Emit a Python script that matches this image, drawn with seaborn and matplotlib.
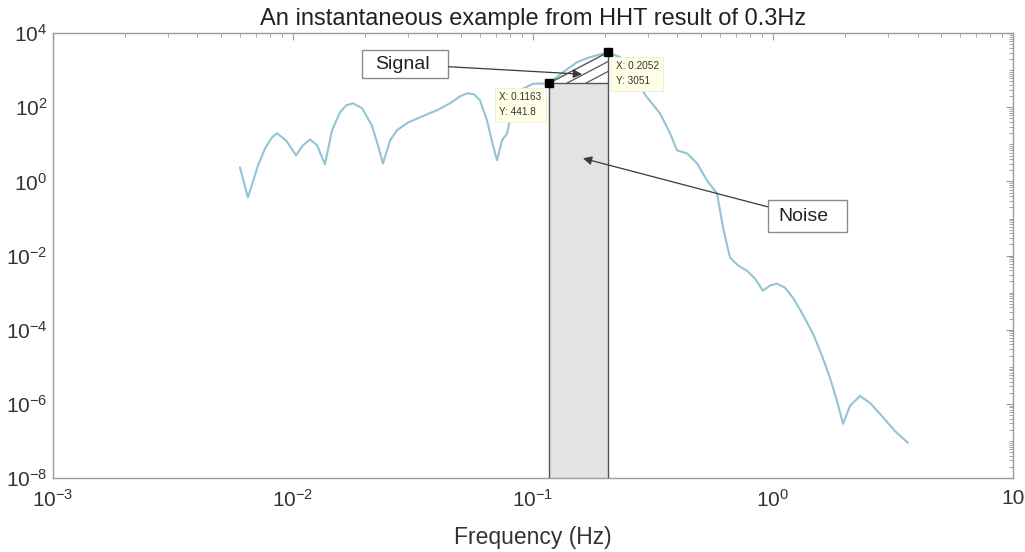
import numpy as np
import pandas as pd
import matplotlib
matplotlib.use("Agg")
import matplotlib.pyplot as plt
from matplotlib.patches import Rectangle
from matplotlib.ticker import LogLocator, NullFormatter, FuncFormatter
import seaborn as sns

# Instantaneous HHT marginal spectrum (frequency in Hz, amplitude)
freq = [0.00601, 0.00649, 0.00715, 0.00765, 0.00818, 0.00858, 0.00935, 0.0103,
        0.0110, 0.01178, 0.0126, 0.01359, 0.01454, 0.0157, 0.01665, 0.01778,
        0.0194, 0.0213, 0.0226, 0.02371, 0.0254, 0.0271, 0.0302, 0.0338,
        0.0398, 0.0451, 0.0497, 0.0531, 0.0568, 0.0601, 0.0643, 0.0681,
        0.0708, 0.0743, 0.078, 0.0826, 0.0883, 0.1, 0.1163, 0.1334, 0.1526,
        0.1728, 0.2052, 0.2305, 0.2985, 0.338, 0.3724, 0.398, 0.4385, 0.4826,
        0.531, 0.5843, 0.619, 0.662, 0.715, 0.779, 0.841, 0.908, 0.971,
        1.039, 1.122, 1.211, 1.334, 1.468, 1.6, 1.728, 1.848, 1.957, 2.094,
        2.305, 2.535, 2.79, 3.22, 3.65]
amplitude = [2.39, 0.37, 2.7, 7.8, 15.5, 19.8, 12.8, 5.05,
             9.4, 13.6, 9.4, 2.88, 23.9, 73, 113, 128,
             94, 32.6, 9.4, 3.06, 12.8, 23.9, 39, 53.7,
             83, 128, 198, 239, 224, 155, 44.5, 9.4,
             3.7, 12.8, 19.8, 113, 288, 430, 441.8, 883, 1645,
             2246, 3051, 2246, 186, 68.9, 19.8, 6.9, 5.7, 3.06,
             1.06, 0.474, 0.057, 0.0088, 0.0054, 0.0039, 0.0024, 0.00113, 0.00155,
             0.00175, 0.00136, 0.00073, 2.5e-4, 7.8e-5, 1.98e-5, 5.0e-6, 1.2e-6, 2.9e-7, 8.9e-7,
             1.64e-6, 1.06e-6, 5.4e-7, 1.86e-7, 8.9e-8]

# Data-tip points bounding the signal band
tip_x = [0.1163, 0.2052]
tip_y = [441.8, 3051]

title = "An instantaneous example from HHT result of 0.3Hz"
xlabel = "Frequency (Hz)"
callouts = ["Signal", "Noise"]
x_limits = (1e-3, 10)
y_limits = (1e-8, 1e4)

sns.set_style("white")
plt.rcParams["font.family"] = ["Liberation Sans", "DejaVu Sans"]
plt.rcParams["axes.unicode_minus"] = False

fig = plt.figure(figsize=(10.25, 5.52), dpi=100)
ax = fig.add_axes([0.0517, 0.134, 0.9366, 0.806])
ax.set_xscale("log")
ax.set_yscale("log")

df = pd.DataFrame({"Frequency": freq, "Amplitude": amplitude})
sns.lineplot(data=df, x="Frequency", y="Amplitude", ax=ax, color="#94c4d4",
             linewidth=1.5, sort=True, zorder=2)

edge = "#555555"
# Noise band: rectangle under the lower data tip
ax.fill_between(tip_x, y_limits[0], tip_y[0], color="#e3e3e3", zorder=1, linewidth=0)
ax.plot([tip_x[0], tip_x[0]], [y_limits[0], tip_y[0]], color=edge, lw=1.0, zorder=3)
ax.plot([tip_x[1], tip_x[1]], [y_limits[0], tip_y[1]], color=edge, lw=1.0, zorder=3)
ax.plot(tip_x, [tip_y[0], tip_y[0]], color=edge, lw=1.0, zorder=3)

# Signal triangle with parallel hatch lines
ax.plot(tip_x, tip_y, color=edge, lw=1.0, zorder=3)
lx = np.log10(tip_x)
ly = np.log10(tip_y)
for f in (0.3, 0.62):
    xs = [10 ** (lx[0] + f * (lx[1] - lx[0])), tip_x[1]]
    ys = [tip_y[0], 10 ** (ly[1] - f * (ly[1] - ly[0]))]
    ax.plot(xs, ys, color=edge, lw=0.9, zorder=3)

ax.plot(tip_x, tip_y, linestyle="none", marker="s", markersize=5.5,
        color="black", zorder=5)

# Data-tip labels
tip_box = dict(boxstyle="square,pad=0.45", facecolor="#ffffe6", edgecolor="#ececd8",
               linewidth=0.6)
ax.annotate(f"X: {tip_x[0]:.4g}\nY: {tip_y[0]:.4g}", xy=(tip_x[0], tip_y[0]),
            xytext=(-7, -9), textcoords="offset pixels", ha="right", va="top",
            multialignment="left", fontsize=7.2, color="#333333", bbox=tip_box,
            linespacing=1.6, zorder=6)
ax.annotate(f"X: {tip_x[1]:.4g}\nY: {tip_y[1]:.4g}", xy=(tip_x[1], tip_y[1]),
            xytext=(8, -9), textcoords="offset pixels", ha="left", va="top",
            multialignment="left", fontsize=7.2, color="#333333", bbox=tip_box,
            linespacing=1.6, zorder=6)

# Callout text boxes (axes-fraction frames) with arrows into the plot
box_frames = [(0.3219, 0.8989, 0.0896, 0.0629), (0.7448, 0.5528, 0.0823, 0.0719)]
text_left = [0.3354, 0.7552]
targets = [(0.16, 780), (0.1615, 4.2)]
for label, (bx, by, bw, bh), tx, tgt in zip(callouts, box_frames, text_left, targets):
    rect = Rectangle((bx, by), bw, bh, transform=ax.transAxes, facecolor="white",
                     edgecolor="#8a8a8a", linewidth=1.0, zorder=7)
    ax.add_patch(rect)
    ax.annotate(label, xy=tgt, xytext=(tx, by + bh / 2), textcoords="axes fraction",
                ha="left", va="center", fontsize=14, color="#222222", zorder=8,
                arrowprops=dict(arrowstyle="-|>", color="#3a3a3a", lw=0.9,
                                mutation_scale=13, shrinkA=0, shrinkB=0,
                                patchA=rect, relpos=(0.5, 0.5)))

ax.set_xlim(*x_limits)
ax.set_ylim(*y_limits)


def decade_label(v, pos):
    e = int(round(np.log10(v)))
    if v >= x_limits[1] and e == 1 and pos is not None and pos >= 0:
        return "10"
    return r"$\mathdefault{10^{%d}}$" % e


def y_label(v, pos):
    return r"$\mathdefault{10^{%d}}$" % int(round(np.log10(v)))


ax.xaxis.set_major_locator(LogLocator(base=10, numticks=20))
ax.xaxis.set_minor_locator(LogLocator(base=10, subs=np.arange(2, 10), numticks=50))
ax.xaxis.set_minor_formatter(NullFormatter())
ax.xaxis.set_major_formatter(FuncFormatter(decade_label))
ax.yaxis.set_major_locator(LogLocator(base=100, numticks=20))
ax.yaxis.set_minor_locator(LogLocator(base=10, subs=np.arange(1, 10), numticks=50))
ax.yaxis.set_minor_formatter(NullFormatter())
ax.yaxis.set_major_formatter(FuncFormatter(y_label))

frame = "#9a9a9a"
for s in ax.spines.values():
    s.set_color(frame)
    s.set_linewidth(1.0)
    s.set_visible(True)
ax.tick_params(which="both", direction="in", top=True, right=True, color=frame,
               labelcolor="#333333")
ax.tick_params(which="major", length=5, width=0.8, labelsize=15)
ax.tick_params(which="minor", length=3, width=0.6)
ax.tick_params(axis="x", which="major", pad=8)
ax.tick_params(axis="y", which="major", pad=4)

ax.set_xlabel(xlabel, fontsize=16.5, color="#333333", labelpad=11)
ax.set_ylabel("")
ax.set_title(title, fontsize=17, color="#222222", y=1.018, pad=0)

fig.savefig("out.png", dpi=100, facecolor="white")
